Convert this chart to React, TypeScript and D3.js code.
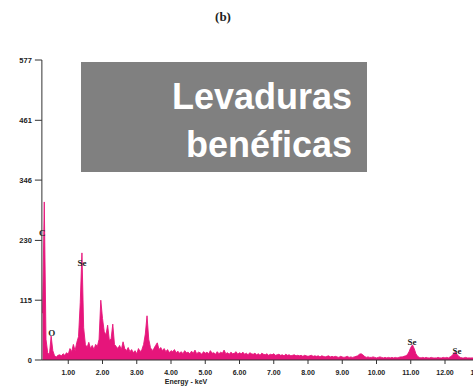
import React from "react";
import * as d3 from "d3";

// EDS spectrum: channel counts, 0.05 keV per channel starting at 0.25 keV
const startEnergy = 0.25;
const channelWidth = 0.05;
const counts: number[] = [
  90, 304, 40, 14, 10, 46, 18, 8, 6, 9,
  10, 8, 12, 9, 14, 11, 22, 16, 30, 18,
  34, 45, 110, 206, 62, 30, 24, 34, 22, 28,
  20, 30, 26, 40, 115, 80, 55, 48, 67, 38,
  40, 69, 30, 26, 22, 28, 20, 35, 22, 18,
  24, 16, 20, 14, 18, 12, 22, 16, 20, 30,
  50, 85, 40, 24, 18, 22, 28, 33, 20, 24,
  18, 22, 16, 20, 14, 18, 16, 20, 14, 17,
  13, 16, 12, 18, 14, 15, 12, 17, 13, 19,
  12, 15, 14, 11, 16, 13, 15, 12, 18, 13,
  14, 11, 16, 12, 15, 13, 19, 12, 14, 11,
  15, 12, 13, 16, 11, 14, 12, 15, 11, 13,
  10, 14, 12, 11, 13, 10, 12, 9, 13, 11,
  10, 12, 9, 11, 10, 12, 9, 10, 11, 9,
  10, 8, 11, 9, 10, 8, 9, 10, 8, 9,
  8, 9, 7, 9, 8, 7, 8, 9, 7, 8,
  7, 8, 6, 8, 7, 6, 7, 8, 6, 7,
  6, 7, 6, 5, 7, 6, 5, 6, 7, 5,
  6, 5, 6, 7, 8, 11, 12, 10, 7, 5,
  6, 5, 5, 6, 5, 4, 5, 6, 5, 4,
  5, 4, 5, 4, 5, 4, 5, 4, 5, 6,
  6, 7, 8, 10, 16, 24, 29, 22, 12, 7,
  5, 4, 5, 4, 5, 4, 4, 5, 4, 4,
  4, 5, 4, 4, 5, 4, 5, 4, 6, 8,
  12, 15, 11, 7, 5, 4, 4, 5, 4, 4,
  4, 4, 5, 4, 4, 4, 4, 4, 4, 4,
  4, 4, 4, 4,
];

const yTicks = [0, 115, 230, 346, 461, 577];
const xTicks = [1, 2, 3, 4, 5, 6, 7, 8, 9, 10, 11, 12, 13];

// Element labels anchored at (energy keV, counts)
const peakLabels = ["C", "O", "Se", "Se", "Se"];
const peakEnergies = [0.24, 0.52, 1.4, 11.04, 12.35];
const peakCounts = [238, 46, 181, 29, 12];

const W = 473;
const H = 388;
const PINK = "#e6157b";

export default function App() {
  const x = d3.scaleLinear().domain([0, 13]).range([34, 34 + 13 * 34.25]);
  const y = d3.scaleLinear().domain([0, 577]).range([360, 60]);
  const axisX = x(0.23);

  const points: [number, number][] = counts.map((c, i) => [
    startEnergy + i * channelWidth,
    c,
  ]);
  const area = d3
    .area<[number, number]>()
    .x((d) => x(d[0]))
    .y0(y(0))
    .y1((d) => y(d[1]));
  const line = d3
    .line<[number, number]>()
    .x((d) => x(d[0]))
    .y((d) => y(d[1]));

  return (
    <svg
      width={W}
      height={H}
      style={{ position: "absolute", left: 0, top: 0, background: "#fff" }}
    >
      <text
        x={223}
        y={21}
        textAnchor="middle"
        fontFamily="Liberation Serif, serif"
        fontWeight="bold"
        fontSize={13}
        fill="#222"
      >
        (b)
      </text>

      {/* spectrum */}
      <path d={area(points) ?? ""} fill={PINK} />
      <path d={line(points) ?? ""} fill="none" stroke={PINK} strokeWidth={0.9} />

      {/* axes */}
      <line x1={axisX} x2={axisX} y1={y(577)} y2={y(0)} stroke="#333" strokeWidth={1} />
      <line x1={axisX} x2={W} y1={y(0)} y2={y(0)} stroke="#333" strokeWidth={1} />
      {yTicks.map((t) => (
        <g key={t}>
          <line x1={axisX - 7} x2={axisX} y1={y(t)} y2={y(t)} stroke="#333" strokeWidth={1} />
          <text
            x={axisX - 10}
            y={y(t) + 2.8}
            textAnchor="end"
            fontFamily="Liberation Sans, Arial, sans-serif"
            fontWeight="bold"
            fontSize={7.5}
            fill="#222"
          >
            {t}
          </text>
        </g>
      ))}
      {xTicks.map((t) => (
        <g key={t}>
          <line x1={x(t)} x2={x(t)} y1={y(0)} y2={y(0) + 4} stroke="#333" strokeWidth={1} />
          <text
            x={x(t)}
            y={375}
            textAnchor="middle"
            fontFamily="Liberation Sans, Arial, sans-serif"
            fontWeight="bold"
            fontSize={7}
            fill="#222"
          >
            {t.toFixed(2)}
          </text>
        </g>
      ))}
      <text
        x={186}
        y={384}
        textAnchor="middle"
        fontFamily="Liberation Sans, Arial, sans-serif"
        fontWeight="bold"
        fontSize={7}
        fill="#222"
      >
        Energy - keV
      </text>

      {/* element labels */}
      {peakLabels.map((lab, i) => (
        <text
          key={i}
          x={x(peakEnergies[i])}
          y={y(peakCounts[i])}
          textAnchor="middle"
          fontFamily="Liberation Serif, serif"
          fontWeight="bold"
          fontSize={9}
          fill="#222"
        >
          {lab}
        </text>
      ))}

      {/* banner */}
      <rect x={81} y={62} width={286} height={110} fill="#808080" />
      <text
        x={352}
        y={109}
        textAnchor="end"
        fontFamily="Liberation Sans, Arial, sans-serif"
        fontWeight="bold"
        fontSize={36}
        fill="#fff"
      >
        Levaduras
      </text>
      <text
        x={352}
        y={157}
        textAnchor="end"
        fontFamily="Liberation Sans, Arial, sans-serif"
        fontWeight="bold"
        fontSize={36}
        fill="#fff"
      >
        benéficas
      </text>
    </svg>
  );
}
